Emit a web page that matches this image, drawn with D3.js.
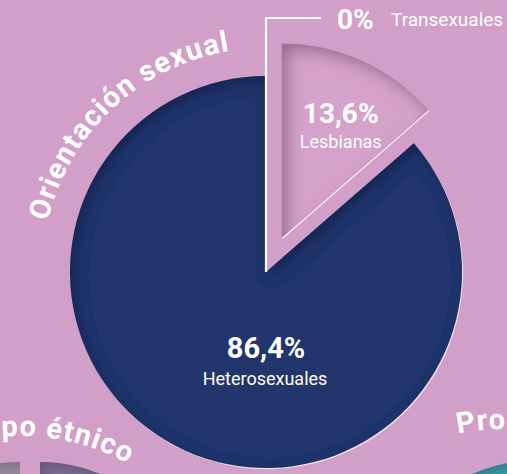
<!DOCTYPE html>
<html><head><meta charset="utf-8">
<script src="https://cdn.jsdelivr.net/npm/d3@7"></script>
<style>html,body{margin:0;padding:0;background:#d19fc7;overflow:hidden}</style>
</head><body>
<script>
// ---- data ----
const categories = ["Lesbianas", "Heterosexuales", "Transexuales"];
const values = [13.6, 86.4, 0];
const valueLabels = ["13,6%", "86,4%", "0%"];
const titles = ["Orientación sexual", "Grupo étnico", "Procedencia"];

const W = 507, H = 474;
const svg = d3.select("body").append("svg").attr("width", W).attr("height", H);
svg.append("rect").attr("width", W).attr("height", H).attr("fill", "#d19fc7");

const defs = svg.append("defs");
function innerShadow(id, dx, dy, std, color, op) {
  const f = defs.append("filter").attr("id", id)
    .attr("x", "-20%").attr("y", "-20%").attr("width", "140%").attr("height", "140%");
  f.append("feComponentTransfer").attr("in", "SourceAlpha").attr("result", "inv")
    .append("feFuncA").attr("type", "table").attr("tableValues", "1 0");
  f.append("feGaussianBlur").attr("in", "inv").attr("stdDeviation", std).attr("result", "blur");
  f.append("feOffset").attr("in", "blur").attr("dx", dx).attr("dy", dy).attr("result", "ob");
  f.append("feFlood").attr("flood-color", color).attr("flood-opacity", op).attr("result", "fl");
  f.append("feComposite").attr("in", "fl").attr("in2", "ob").attr("operator", "in").attr("result", "sh");
  f.append("feComposite").attr("in", "sh").attr("in2", "SourceAlpha").attr("operator", "in").attr("result", "sh2");
  const m = f.append("feMerge");
  m.append("feMergeNode").attr("in", "SourceGraphic");
  m.append("feMergeNode").attr("in", "sh2");
}
innerShadow("shDark", 4, 5, 7, "#000", 0.45);
innerShadow("shPink", 6, 7, 8, "#5a2f55", 0.65);
innerShadow("shSide", 4, 4, 6, "#000", 0.35);

const deg = Math.PI / 180;
const font = "Roboto, 'DejaVu Sans', sans-serif";

// curved title helper
function curvedTitle(id, cx, cy, r, a0, a1, text, anchor, offset, size, ls) {
  const p = d3.path();
  p.arc(cx, cy, r, (a0 - 90) * deg, (a1 - 90) * deg, false);
  defs.append("path").attr("id", id).attr("d", p.toString());
  svg.append("text")
    .attr("font-family", font).attr("font-weight", 700).attr("font-size", size)
    .attr("letter-spacing", ls).attr("fill", "#fff")
    .append("textPath").attr("href", "#" + id)
    .attr("startOffset", offset).attr("text-anchor", anchor)
    .text(text);
}

// ---- neighbouring charts (partial) ----
const arcN = d3.arc();
svg.append("path")
  .attr("transform", "translate(20,660)")
  .attr("d", arcN({innerRadius: 0, outerRadius: 198, startAngle: -Math.PI / 2, endAngle: 0}))
  .attr("fill", "#978a9e").attr("filter", "url(#shSide)");
svg.append("path")
  .attr("transform", "translate(40,618)")
  .attr("d", arcN({innerRadius: 0, outerRadius: 156, startAngle: 0, endAngle: Math.PI / 3}))
  .attr("fill", "#7c6a92").attr("filter", "url(#shSide)");
svg.append("circle").attr("cx", 547).attr("cy", 655).attr("r", 196)
  .attr("fill", "#3d98a5").attr("filter", "url(#shSide)");

curvedTitle("tp2", 20, 660, 224, -80, 29, titles[1], "end", "100%", 29, 1.2);
curvedTitle("tp3", 505, 665, 236, -11.5, 80, titles[2], "start", "0%", 29, 1.2);

// ---- main chart ----
const cx = 266, cy = 272, R = 196;
const pie = d3.pie().sort(null).value(d => d)(values);
const arc = d3.arc().innerRadius(0);

const g = svg.append("g").attr("transform", `translate(${cx},${cy})`);

// dark slice (Heterosexuales)
const het = pie[1];
g.append("path")
  .attr("transform", "translate(1,1.2)")
  .attr("d", arc.outerRadius(R)(het)).attr("fill", "#f4eef4").attr("opacity", 0.85);
g.append("path")
  .attr("d", arc.outerRadius(R)(het))
  .attr("fill", "#24346c").attr("filter", "url(#shDark)");

// exploded slice (Lesbianas)
const les = pie[0];
const mid = (les.startAngle + les.endAngle) / 2;
const ex = 38 * Math.sin(mid), ey = -38 * Math.cos(mid);
const rl = 194;
const gl = g.append("g").attr("transform", `translate(${ex},${ey})`);
gl.append("path")
  .attr("d", arc.outerRadius(rl)(les))
  .attr("fill", "#d5a2ca").attr("filter", "url(#shPink)");
gl.append("line")
  .attr("x1", 0.8).attr("y1", 0.8)
  .attr("x2", rl * Math.sin(les.endAngle) + 0.8).attr("y2", -rl * Math.cos(les.endAngle) + 0.8)
  .attr("stroke", "#fff").attr("stroke-width", 1.1).attr("opacity", 0.9);

// leader line to the 0% slice (Transexuales)
const topY = -254;
g.append("path")
  .attr("d", `M0,0 L0,${topY} L55,${topY}`)
  .attr("fill", "none").attr("stroke", "#fff").attr("stroke-width", 2.2);

// labels
svg.append("text").attr("x", 337).attr("y", 29)
  .attr("font-family", font).attr("font-weight", 700).attr("font-size", 28).attr("fill", "#fff")
  .text(valueLabels[2]);
svg.append("text").attr("x", 391).attr("y", 26)
  .attr("font-family", font).attr("font-size", 19).attr("fill", "#fff")
  .text(categories[2]);

gl.append("text").attr("x", 59).attr("y", -114)
  .attr("text-anchor", "middle")
  .attr("font-family", font).attr("font-weight", 700).attr("font-size", 28).attr("fill", "#fff")
  .text(valueLabels[0]);
gl.append("text").attr("x", 59).attr("y", -89)
  .attr("text-anchor", "middle")
  .attr("font-family", font).attr("font-size", 18).attr("fill", "#fff")
  .text(categories[0]);

g.append("text").attr("x", 0).attr("y", 86)
  .attr("text-anchor", "middle")
  .attr("font-family", font).attr("font-weight", 700).attr("font-size", 29).attr("fill", "#fff")
  .text(valueLabels[1]);
g.append("text").attr("x", -1).attr("y", 113)
  .attr("text-anchor", "middle")
  .attr("font-family", font).attr("font-size", 18).attr("fill", "#fff")
  .text(categories[1]);

curvedTitle("tp1", cx, cy, 224, -100, 10, titles[0], "middle", "51.8%", 29, 1.2);
</script>
</body></html>
